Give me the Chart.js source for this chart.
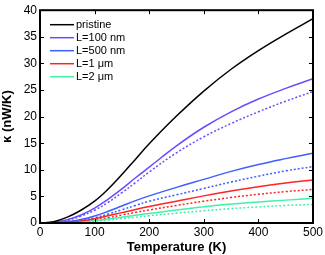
<!DOCTYPE html>
<html>
<head>
<meta charset="utf-8">
<script src="https://cdn.jsdelivr.net/npm/chart.js@4/dist/chart.umd.min.js"></script>
<style>
html,body{margin:0;padding:0;background:#fff;}
#wrap{width:325px;height:255px;}
</style>
</head>
<body>
<div id="wrap"><canvas id="c" width="325" height="255"></canvas></div>
<script>
const temps = [0, 25, 50, 75, 100, 125, 150, 175, 200, 250, 300, 350, 400, 450, 500];
const pristine = [0, 0.25, 1.1, 2.4, 4.1, 6.4, 9.1, 12.0, 14.9, 20.1, 24.8, 28.9, 32.4, 35.5, 38.4];
const l100     = [0, 0.1, 0.6, 1.5, 2.8, 4.5, 6.4, 8.5, 10.5, 14.5, 18.0, 20.9, 23.3, 25.3, 27.1];
const l100d    = [0, 0.1, 0.5, 1.3, 2.4, 3.9, 5.7, 7.6, 9.6, 13.2, 16.2, 18.7, 20.9, 22.9, 24.7];
const l500     = [0, 0.05, 0.25, 0.65, 1.3, 2.2, 3.2, 4.2, 5.1, 6.7, 8.2, 9.7, 11.0, 12.1, 13.1];
const l500d    = [0, 0.04, 0.2, 0.5, 1.0, 1.7, 2.5, 3.3, 4.1, 5.3, 6.5, 7.7, 8.8, 9.8, 10.6];
const l1       = [0, 0.03, 0.15, 0.4, 0.8, 1.35, 1.95, 2.55, 3.1, 4.1, 5.1, 6.0, 6.8, 7.5, 8.1];
const l1d      = [0, 0.02, 0.1, 0.3, 0.6, 1.0, 1.5, 2.0, 2.45, 3.3, 4.1, 4.8, 5.4, 5.9, 6.3];
const l2       = [0, 0.02, 0.08, 0.22, 0.45, 0.75, 1.1, 1.45, 1.8, 2.45, 3.05, 3.55, 3.95, 4.3, 4.65];
const l2d      = [0, 0.01, 0.06, 0.16, 0.33, 0.55, 0.82, 1.08, 1.35, 1.85, 2.3, 2.7, 3.02, 3.3, 3.5];
const xTicks = [0, 100, 200, 300, 400, 500];
const yTicks = [0, 5, 10, 15, 20, 25, 30, 35, 40];
const legendLabels = ['pristine', 'L=100 nm', 'L=500 nm', 'L=1 \u03bcm', 'L=2 \u03bcm'];

const FONT = '"Liberation Sans", Arial, Helvetica, sans-serif';
const pts = arr => temps.map((t, i) => ({x: t, y: arr[i]}));
function ds(label, arr, color, dashed, inLegend) {
  return {
    label: label, data: pts(arr), borderColor: color, backgroundColor: color,
    borderWidth: 1.5, borderDash: dashed ? [2, 2] : [], pointRadius: 0,
    tension: 0.4, fill: false, inLegend: inLegend
  };
}
const C100 = '#6a4cff', C500 = '#3f5eff', CR = '#ff2424', CG = '#44f0a8';
const datasets = [
  ds(legendLabels[0], pristine, '#000000', false, true),
  ds(legendLabels[1], l100, C100, false, true),
  ds(legendLabels[2], l500, C500, false, true),
  ds(legendLabels[3], l1, CR, false, true),
  ds(legendLabels[4], l2, CG, false, true),
  ds(legendLabels[1] + ' d', l100d, C100, true, false),
  ds(legendLabels[2] + ' d', l500d, C500, true, false),
  ds(legendLabels[3] + ' d', l1d, CR, true, false),
  ds(legendLabels[4] + ' d', l2d, CG, true, false)
];

const framePlugin = {
  id: 'frame',
  afterDraw(chart) {
    const ctx = chart.ctx, a = chart.chartArea;
    const xs = chart.scales.x, ys = chart.scales.y;
    ctx.save();
    ctx.strokeStyle = '#000';
    ctx.lineWidth = 1;
    const tl = 4;
    ctx.beginPath();
    xTicks.forEach(v => {
      const px = Math.round(xs.getPixelForValue(v)) + 0.5;
      ctx.moveTo(px, a.bottom); ctx.lineTo(px, a.bottom - tl);
      ctx.moveTo(px, a.top); ctx.lineTo(px, a.top + tl);
    });
    yTicks.forEach(v => {
      const py = Math.round(ys.getPixelForValue(v)) + 0.5;
      ctx.moveTo(a.left, py); ctx.lineTo(a.left + tl, py);
      ctx.moveTo(a.right, py); ctx.lineTo(a.right - tl, py);
    });
    ctx.stroke();
    ctx.lineWidth = 2;
    ctx.strokeRect(a.left, a.top, a.right - a.left, a.bottom - a.top);
    // legend
    const items = chart.data.datasets.filter(d => d.inLegend);
    ctx.font = '11px ' + FONT;
    ctx.textBaseline = 'middle';
    ctx.textAlign = 'left';
    items.forEach((d, i) => {
      const y = a.top + 14.5 + i * 13;
      ctx.strokeStyle = d.borderColor;
      ctx.lineWidth = 1.5;
      ctx.beginPath();
      ctx.moveTo(a.left + 10, y); ctx.lineTo(a.left + 34, y);
      ctx.stroke();
      ctx.fillStyle = '#000';
      ctx.fillText(d.label, a.left + 36, y);
    });
    ctx.restore();
  }
};

new Chart(document.getElementById('c'), {
  type: 'line',
  data: { datasets: datasets },
  plugins: [framePlugin],
  options: {
    responsive: false,
    animation: false,
    layout: { padding: { top: 8, right: 12, left: 0, bottom: 0 } },
    plugins: { legend: { display: false }, tooltip: { enabled: false } },
    scales: {
      x: {
        type: 'linear', min: 0, max: 500,
        afterBuildTicks: s => { s.ticks = xTicks.map(v => ({value: v})); },
        afterFit: s => { s.height = 32; },
        grid: { display: false, drawTicks: false },
        border: { display: false },
        ticks: { color: '#000', font: { family: FONT, size: 12 }, padding: 2, maxRotation: 0 },
        title: { display: true, text: 'Temperature (K)', color: '#000', font: { family: FONT, size: 13, weight: 'bold' }, padding: { top: 0, bottom: 0 } }
      },
      y: {
        type: 'linear', min: 0, max: 40,
        afterBuildTicks: s => { s.ticks = yTicks.map(v => ({value: v})); },
        afterFit: s => { s.width = 40; },
        grid: { display: false, drawTicks: false },
        border: { display: false },
        ticks: { color: '#000', font: { family: FONT, size: 12 }, padding: 3 },
        title: { display: true, text: '\u03ba (nW/K)', color: '#000', font: { family: FONT, size: 13, weight: 'bold' }, padding: { top: 0, bottom: 0 } }
      }
    }
  }
});
</script>
</body>
</html>
